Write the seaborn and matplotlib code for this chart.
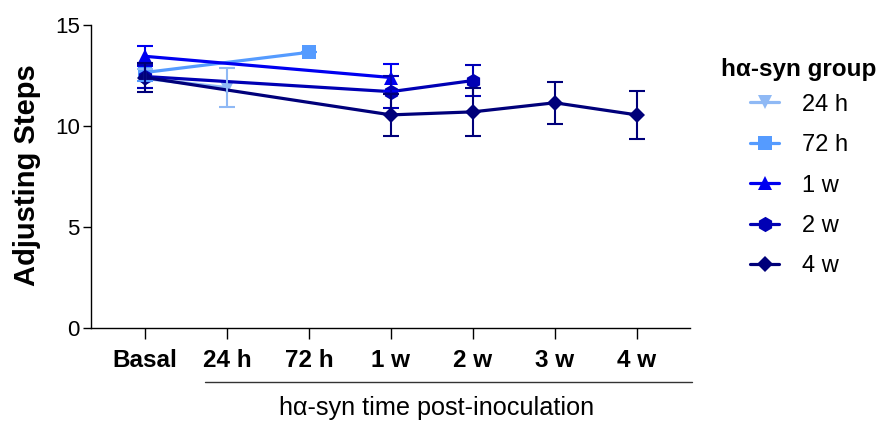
import matplotlib
matplotlib.use("Agg")
import matplotlib.pyplot as plt
import pandas as pd
import seaborn as sns

# Datos (media ± error)
times = ["Basal", "24 h", "72 h", "1 w", "2 w", "3 w", "4 w"]
groups = ["24 h", "72 h", "1 w", "2 w", "4 w"]
colors = ["#8fb9f5", "#559bff", "#0000f0", "#0000b4", "#00007a"]
markers = ["v", "s", "^", "h", "D"]

g24h_times = ["Basal", "24 h"]
g24h_mean = [12.35, 11.9]
g24h_err = [0.45, 0.95]

g72h_times = ["Basal", "72 h"]
g72h_mean = [12.65, 13.65]
g72h_err = [0.4, 0.0]

g1w_times = ["Basal", "1 w"]
g1w_mean = [13.45, 12.4]
g1w_err = [0.5, 0.65]

g2w_times = ["Basal", "1 w", "2 w"]
g2w_mean = [12.45, 11.7, 12.25]
g2w_err = [0.55, 0.8, 0.75]

g4w_times = ["Basal", "1 w", "2 w", "3 w", "4 w"]
g4w_mean = [12.4, 10.55, 10.7, 11.15, 10.55]
g4w_err = [0.7, 1.05, 1.2, 1.05, 1.2]

series = {
    "24 h": (g24h_times, g24h_mean, g24h_err),
    "72 h": (g72h_times, g72h_mean, g72h_err),
    "1 w": (g1w_times, g1w_mean, g1w_err),
    "2 w": (g2w_times, g2w_mean, g2w_err),
    "4 w": (g4w_times, g4w_mean, g4w_err),
}

rows = []
for g, (t, m, e) in series.items():
    for ti, mi, ei in zip(t, m, e):
        rows.append({"group": g, "time": ti, "pos": times.index(ti), "mean": mi, "err": ei})
df = pd.DataFrame(rows)

sns.set_style("ticks")
plt.rcParams["font.family"] = ["Liberation Sans", "DejaVu Sans"]
plt.rcParams["text.color"] = "black"
plt.rcParams["xtick.color"] = "black"
plt.rcParams["ytick.color"] = "black"
plt.rcParams["axes.labelcolor"] = "black"

fig = plt.figure(figsize=(8.79, 4.21), dpi=100)
ax = fig.add_axes([91 / 879, 1 - 328 / 421, 599 / 879, 303 / 421])

palette = dict(zip(groups, colors))
sns.lineplot(data=df, x="pos", y="mean", hue="group", style="group",
             hue_order=groups, style_order=groups, palette=palette,
             markers=dict(zip(groups, markers)), dashes=False,
             linewidth=2.3, markersize=10, markeredgewidth=0, ax=ax, sort=True)

msize = {"v": 10, "s": 10, "^": 10, "h": 11, "D": 8.5}


def fix_markers(lines):
    for ln in lines:
        mk = ln.get_marker()
        if mk in msize:
            ln.set_markersize(msize[mk])


fix_markers(ax.lines)

for g in groups:
    sub = df[df["group"] == g]
    ax.errorbar(sub["pos"], sub["mean"], yerr=sub["err"], fmt="none",
                ecolor=palette[g], elinewidth=1.5, capsize=6, capthick=1.5)

ax.set_xlim(-0.66, 6.65)
ax.set_ylim(0, 15)
ax.set_yticks([0, 5, 10, 15])
ax.set_xticks(range(len(times)))
ax.set_xticklabels(times, fontweight="bold", fontsize=17.5)
ax.tick_params(axis="y", labelsize=16, length=6, width=1, color="black",
               labelcolor="black", pad=2)
ax.tick_params(axis="x", length=8, width=1, color="black",
               labelcolor="black", pad=7)
ax.set_xlabel("")
ax.set_ylabel("")
for s in ["left", "bottom"]:
    ax.spines[s].set_linewidth(1)
    ax.spines[s].set_color("black")
sns.despine(ax=ax)

fig.text(27 / 879, 1 - 175 / 421, "Adjusting Steps", rotation=90,
         ha="center", va="center", fontsize=21, fontweight="bold", color="black")

# línea secundaria bajo las etiquetas del eje x
trans = ax.get_xaxis_transform()
ax.plot([0.73, 6.67], [-0.178, -0.178], color="#333333", linewidth=1,
        transform=trans, clip_on=False)
ax.text(3.56, -0.265, "hα-syn time post-inoculation", transform=trans,
        ha="center", va="center", fontsize=18.2, color="black")

leg = ax.legend(title="hα-syn group", loc="upper left",
                bbox_to_anchor=(700 / 879, 1 - 37 / 421),
                bbox_transform=fig.transFigure, frameon=False,
                fontsize=17, title_fontsize=17.5, handlelength=1.25,
                labelspacing=0.78, handletextpad=0.95, labelcolor="black")
leg.get_title().set_fontweight("bold")
leg.get_title().set_color("black")
leg._legend_box.sep = 9
for line in leg.get_lines():
    line.set_linewidth(2.3)
fix_markers(leg.get_lines())

fig.savefig("out.png", dpi=100)
